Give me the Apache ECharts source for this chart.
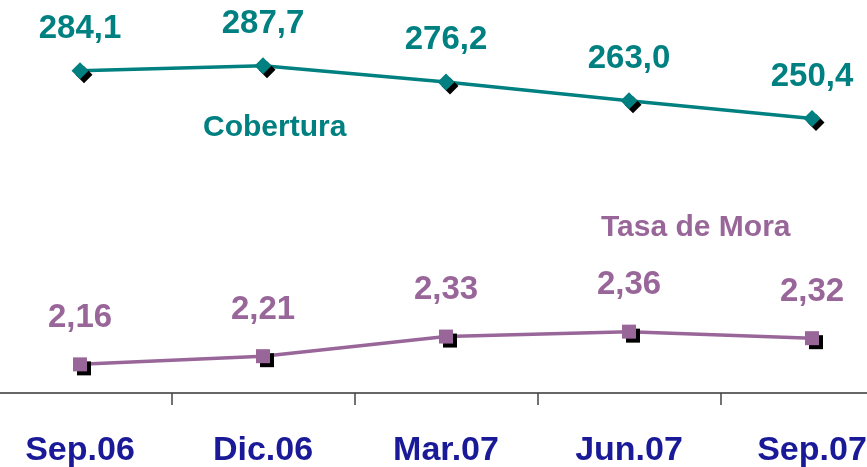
<!DOCTYPE html>
<html>
<head>
<meta charset="utf-8">
<script src="https://cdn.jsdelivr.net/npm/echarts@6/dist/echarts.min.js"></script>
<style>
html,body{margin:0;padding:0;background:#fff;}
#main{width:867px;height:467px;}
</style>
</head>
<body>
<div id="main"></div>
<script>
var categories = ['Sep.06', 'Dic.06', 'Mar.07', 'Jun.07', 'Sep.07'];
var cobertura = [284.1, 287.7, 276.2, 263.0, 250.4];
var tasaMora = [2.16, 2.21, 2.33, 2.36, 2.32];

var teal = '#008080';
var purple = '#996699';
var fontFam = '"Liberation Sans", Arial, sans-serif';

function fmt(d, n) {
  return d.value.toFixed(n).replace('.', ',');
}

var myChart = echarts.init(document.getElementById('main'));
var option = {
  animation: false,
  grid: { left: -11.5, right: -36.5, top: 0, bottom: 74, containLabel: false, outerBoundsMode: 'none' },
  xAxis: {
    type: 'category',
    data: categories,
    axisLine: { lineStyle: { color: '#333', width: 1.5 } },
    axisTick: { show: true, length: 12, lineStyle: { color: '#444', width: 1.5 } },
    axisLabel: {
      margin: 41,
      color: '#1a1a99',
      fontSize: 34,
      fontWeight: 'bold',
      fontFamily: fontFam
    }
  },
  yAxis: [
    { type: 'value', min: 56.5, max: 334.1, show: false },
    { type: 'value', min: 1.985, max: 4.387, show: false }
  ],
  series: [
    {
      name: 'Cobertura',
      type: 'line',
      yAxisIndex: 0,
      data: cobertura,
      symbol: 'diamond',
      symbolSize: 17,
      lineStyle: { color: teal, width: 3.5 },
      itemStyle: { color: teal, shadowColor: '#000', shadowOffsetX: 4, shadowOffsetY: 4, shadowBlur: 0 },
      label: {
        show: true,
        position: 'top',
        distance: 17,
        color: teal,
        fontSize: 33,
        fontWeight: 'bold',
        fontFamily: fontFam,
        formatter: function (d) { return fmt(d, 1); }
      }
    },
    {
      name: 'Tasa de Mora',
      type: 'line',
      yAxisIndex: 1,
      data: tasaMora,
      symbol: 'rect',
      symbolSize: 14,
      lineStyle: { color: purple, width: 3.5 },
      itemStyle: { color: purple, shadowColor: '#000', shadowOffsetX: 4, shadowOffsetY: 4, shadowBlur: 0 },
      label: {
        show: true,
        position: 'top',
        distance: 23,
        color: purple,
        fontSize: 33,
        fontWeight: 'bold',
        fontFamily: fontFam,
        formatter: function (d) { return fmt(d, 2); }
      }
    }
  ],
  graphic: [
    {
      type: 'text', left: 203, top: 113,
      style: { text: 'Cobertura', fill: teal, font: 'bold 30px ' + fontFam }
    },
    {
      type: 'text', left: 601, top: 213,
      style: { text: 'Tasa de Mora', fill: purple, font: 'bold 30px ' + fontFam }
    }
  ]
};
myChart.setOption(option);
</script>
</body>
</html>
